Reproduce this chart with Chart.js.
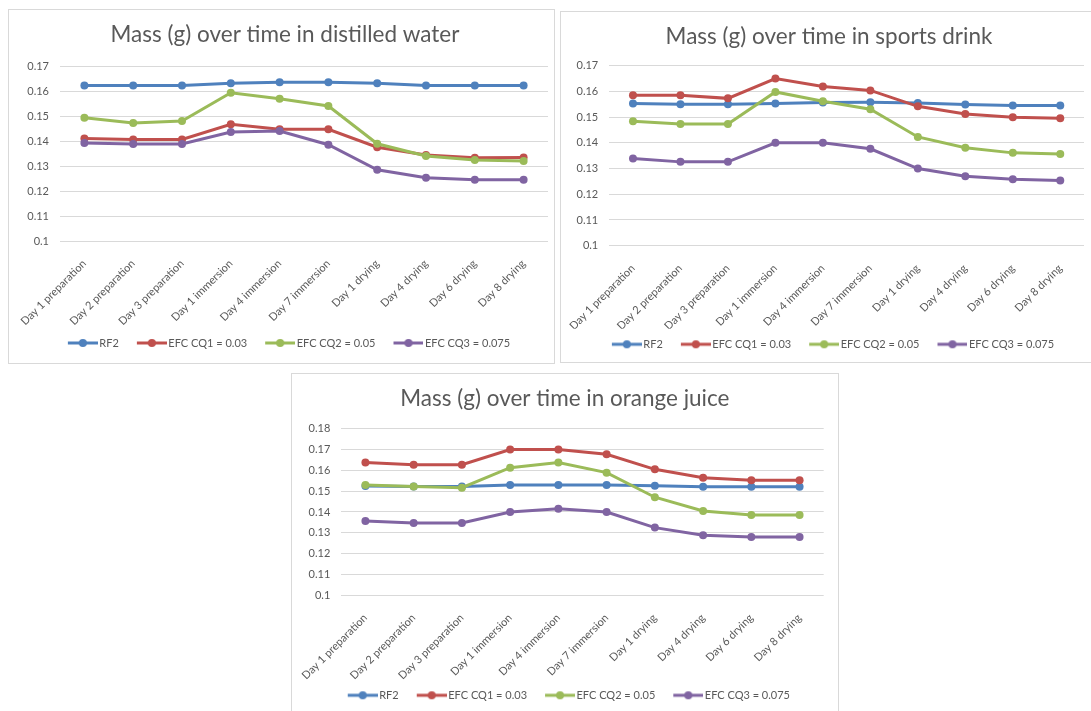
<!DOCTYPE html>
<html>
<head>
<meta charset="utf-8">
<script src="https://cdn.jsdelivr.net/npm/chart.js@4.4.3/dist/chart.umd.min.js"></script>
<style>
  html, body { margin: 0; padding: 0; background: #fff; overflow: hidden; }
  body { width: 1091px; height: 711px; position: relative; }
  .box { position: absolute; border: 1px solid #d9d9d9; background: #fff; }
  .box canvas { display: block; }
</style>
</head>
<body>
<div class="box" style="left:8px; top:9px; width:545px; height:353px;">
  <canvas id="water" width="545" height="353"></canvas>
</div>
<div class="box" style="left:560px; top:11px; width:536px; height:350px;">
  <canvas id="sports" width="536" height="350"></canvas>
</div>
<div class="box" style="left:291px; top:373px; width:546px; height:345px;">
  <canvas id="juice" width="546" height="345"></canvas>
</div>
<script>
const categories = ['Day 1 preparation', 'Day 2 preparation', 'Day 3 preparation', 'Day 1 immersion',
  'Day 4 immersion', 'Day 7 immersion', 'Day 1 drying', 'Day 4 drying', 'Day 6 drying', 'Day 8 drying'];
const seriesNames = ['RF2', 'EFC CQ1 = 0.03', 'EFC CQ2 = 0.05', 'EFC CQ3 = 0.075'];
const seriesColors = ['#4f81bd', '#c0504d', '#9bbb59', '#8064a2'];

// distilled water
const waterRF2 = [0.1622, 0.1622, 0.1622, 0.1631, 0.1635, 0.1635, 0.1631, 0.1622, 0.1622, 0.1622];
const waterCQ1 = [0.1410, 0.1406, 0.1406, 0.1467, 0.1447, 0.1447, 0.1375, 0.1344, 0.1333, 0.1334];
const waterCQ2 = [0.1493, 0.1472, 0.1480, 0.1593, 0.1569, 0.1540, 0.1389, 0.1340, 0.1324, 0.1320];
const waterCQ3 = [0.1392, 0.1388, 0.1388, 0.1436, 0.1440, 0.1385, 0.1285, 0.1253, 0.1245, 0.1245];

// sports drink
const sportsRF2 = [0.1553, 0.1550, 0.1550, 0.1553, 0.1557, 0.1558, 0.1555, 0.1549, 0.1545, 0.1545];
const sportsCQ1 = [0.1585, 0.1585, 0.1573, 0.1650, 0.1619, 0.1604, 0.1542, 0.1512, 0.1500, 0.1496];
const sportsCQ2 = [0.1484, 0.1473, 0.1473, 0.1598, 0.1562, 0.1531, 0.1423, 0.1381, 0.1361, 0.1357];
const sportsCQ3 = [0.1339, 0.1326, 0.1326, 0.1400, 0.1400, 0.1377, 0.1300, 0.1270, 0.1258, 0.1254];

// orange juice
const juiceRF2 = [0.1525, 0.1522, 0.1523, 0.1530, 0.1530, 0.1530, 0.1526, 0.1521, 0.1521, 0.1521];
const juiceCQ1 = [0.1638, 0.1627, 0.1627, 0.1700, 0.1700, 0.1677, 0.1605, 0.1565, 0.1552, 0.1552];
const juiceCQ2 = [0.1530, 0.1522, 0.1517, 0.1613, 0.1638, 0.1589, 0.1471, 0.1405, 0.1386, 0.1386];
const juiceCQ3 = [0.1357, 0.1347, 0.1347, 0.1400, 0.1416, 0.1400, 0.1325, 0.1288, 0.1280, 0.1280];

const textColor = '#595959';
const fontFamily = 'Lato, "Open Sans", sans-serif';

// legend swatch: a short line with a round marker, like the Excel legend
function makeSwatch(color) {
  const c = document.createElement('canvas');
  c.width = 42;
  c.height = 10;
  const g = c.getContext('2d');
  g.strokeStyle = color;
  g.lineWidth = 3;
  g.beginPath();
  g.moveTo(12, 5);
  g.lineTo(42, 5);
  g.stroke();
  g.fillStyle = color;
  g.beginPath();
  g.arc(27, 5, 4, 0, Math.PI * 2);
  g.fill();
  return c;
}
const swatches = seriesColors.map(makeSwatch);

function makeChart(id, title, series, yMax, L) {
  const datasets = series.map((data, i) => ({
    label: seriesNames[i],
    data,
    borderColor: seriesColors[i],
    backgroundColor: seriesColors[i],
    pointBackgroundColor: seriesColors[i],
    pointBorderColor: seriesColors[i],
    borderWidth: 3,
    pointRadius: 4,
    pointBorderWidth: 0,
    tension: 0,
    order: series.length - i
  }));

  return new Chart(document.getElementById(id), {
    type: 'line',
    data: { labels: categories, datasets },
    options: {
      responsive: false,
      animation: false,
      events: [],
      layout: { padding: { top: 0, left: L.left, right: L.right, bottom: L.bottom } },
      plugins: {
        title: {
          display: true,
          text: title,
          color: textColor,
          font: { family: fontFamily, size: 22.5, weight: 'normal', lineHeight: 1.2 },
          padding: { top: L.titleTop, bottom: L.titleBottom }
        },
        legend: {
          position: 'bottom',
          labels: {
            color: textColor,
            font: { family: fontFamily, size: 11 },
            usePointStyle: true,
            pointStyleWidth: 34,
            padding: 10,
            generateLabels(chart) {
              const items = Chart.defaults.plugins.legend.labels.generateLabels(chart);
              items.sort((a, b) => a.datasetIndex - b.datasetIndex);
              items.forEach(it => { it.pointStyle = swatches[it.datasetIndex]; });
              return items;
            }
          }
        },
        tooltip: { enabled: false }
      },
      scales: {
        x: {
          offset: true,
          grid: { display: false },
          border: { display: false },
          ticks: {
            color: textColor,
            font: { family: fontFamily, size: 11 },
            minRotation: 45,
            maxRotation: 45,
            autoSkip: false,
            padding: 8
          },
          afterFit(scale) { scale.height = L.xHeight; }
        },
        y: {
          min: 0.1,
          max: yMax,
          grid: { color: '#d9d9d9', drawTicks: false },
          border: { display: false },
          ticks: {
            stepSize: 0.01,
            color: textColor,
            font: { family: fontFamily, size: 11 },
            padding: 11,
            callback: v => String(+v.toFixed(2))
          },
          afterFit(scale) { scale.width = L.yWidth; }
        }
      }
    }
  });
}

makeChart('water', 'Mass (g) over time in distilled water',
  [waterRF2, waterCQ1, waterCQ2, waterCQ3], 0.17,
  { left: 13, right: 6, bottom: 4.5, titleTop: 11.5, titleBottom: 17.5, xHeight: 86.5, yWidth: 38 });

makeChart('sports', 'Mass (g) over time in sports drink',
  [sportsRF2, sportsCQ1, sportsCQ2, sportsCQ3], 0.17,
  { left: 13, right: 13, bottom: 2.2, titleTop: 11.2, titleBottom: 15.5, xHeight: 83.1, yWidth: 35 });

makeChart('juice', 'Mass (g) over time in orange juice',
  [juiceRF2, juiceCQ1, juiceCQ2, juiceCQ3], 0.18,
  { left: 14, right: 14.3, bottom: 8.2, titleTop: 11.2, titleBottom: 16.5, xHeight: 84.5, yWidth: 35.3 });
</script>
</body>
</html>
